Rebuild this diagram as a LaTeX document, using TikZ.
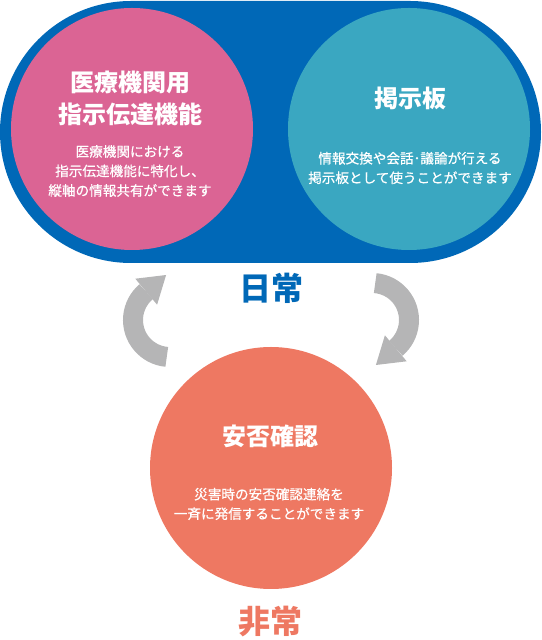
\documentclass[tikz,border=0pt]{standalone}
\usepackage{fontspec}
\newfontfamily\jp{Noto Sans CJK JP}
\newfontfamily\jpm[FakeBold=0.6]{Noto Sans CJK JP}
\definecolor{cblue}{RGB}{0,104,183}
\definecolor{cpink}{RGB}{219,100,148}
\definecolor{cteal}{RGB}{58,167,193}
\definecolor{cred}{RGB}{238,120,98}
\definecolor{cgray}{RGB}{181,181,182}
\begin{document}
\begin{tikzpicture}[x=1pt,y=1pt,
  circ/.style={circle, minimum size=242pt, inner sep=0pt},
  ttl/.style={text=white, font=\jp\bfseries\fontsize{24}{32}\selectfont, align=center, inner sep=0pt},
  desc/.style={text=white, font=\jpm\fontsize{13.6}{19.5}\selectfont, align=center, inner sep=0pt},
  big/.style={font=\jp\bfseries\fontsize{32}{34}\selectfont, inner sep=0pt},
  cyc/.style={cgray, line width=20pt}]
\useasboundingbox (0,0) rectangle (541,640);
% blue stadium
\fill[cblue] (131,639) arc[start angle=90,end angle=270,radius=131] -- (410,377)
  arc[start angle=-90,end angle=90,radius=131] -- cycle;
% circles
\node[circ, fill=cpink] (pink) at (132,511) {};
\node[circ, fill=cteal] (teal) at (409,511) {};
\node[circ, fill=cred] (red) at (271,172) {};
% texts
\node[ttl] (pt) at (130,542) {医療機関用\\指示伝達機能};
\node[desc] (pd) at (130,469) {医療機関における\\指示伝達機能に特化し、\\縦軸の情報共有ができます};
\node[ttl] (tt) at (410,542) {掲示板};
\node[desc] (td) at (410,472) {情報交換や会話･議論が行える\\掲示板として使うことができます};
\node[ttl] (rt) at (270,204) {安否確認};
\node[desc] (rd) at (269,136) {災害時の安否確認連絡を\\一斉に発信することができます};
\node[big, text=cblue] (nichijo) at (271,352) {日常};
\node[big, text=cred] (hijo) at (270,18) {非常};
% cycle arrows
\draw[cyc] (170,320) ++(265:37) arc[start angle=265,end angle=130,radius=37];
\fill[cgray] (135.3,361.3) -- (157.1,335.3) -- (166.1,365.0) -- cycle;
\begin{scope}[rotate around={180:(271,320)}]
\draw[cyc] (170,320) ++(265:37) arc[start angle=265,end angle=130,radius=37];
\fill[cgray] (135.3,361.3) -- (157.1,335.3) -- (166.1,365.0) -- cycle;
\end{scope}
\end{tikzpicture}
\end{document}
